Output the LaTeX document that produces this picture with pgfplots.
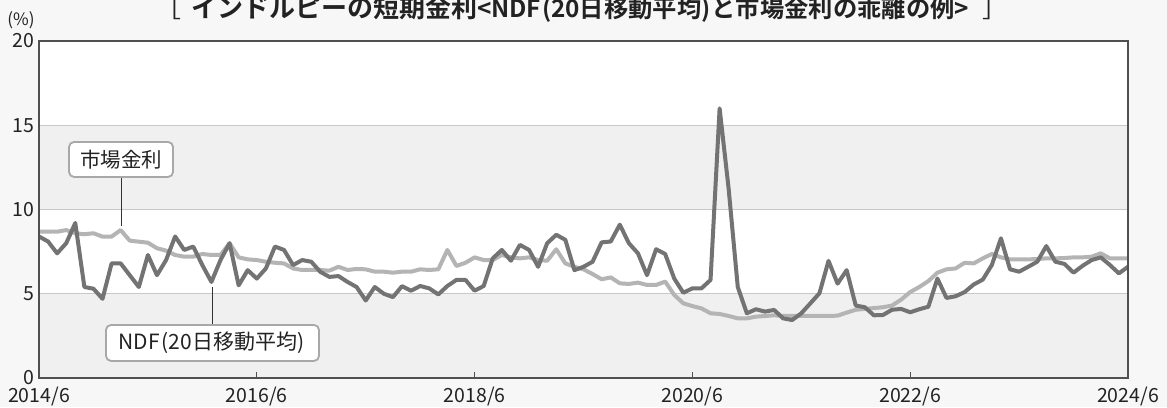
\documentclass[border=0pt]{standalone}
\usepackage{fontspec}
\setmainfont{Noto Sans CJK JP}[BoldFont={Noto Sans CJK JP Bold}]
\usepackage{pgfplots}
\pgfplotsset{compat=1.18}
\definecolor{bgout}{HTML}{F7F7F7}
\definecolor{band}{HTML}{F0F0F0}
\definecolor{gridc}{HTML}{C8C8C8}
\definecolor{axc}{HTML}{505050}
\definecolor{ndf}{HTML}{737373}
\definecolor{mkt}{HTML}{B4B4B4}
\definecolor{boxc}{HTML}{A8A8A8}
\definecolor{txt}{HTML}{222222}

\pgfplotstableread{
i v
0 8.4
1 8.1
2 7.4
3 8.0
4 9.2
5 5.4
6 5.3
7 4.7
8 6.8
9 6.8
10 6.1
11 5.4
12 7.3
13 6.1
14 7.0
15 8.4
16 7.6
17 7.8
18 6.7
19 5.7
20 7.0
21 8.0
22 5.5
23 6.4
24 5.9
25 6.5
26 7.8
27 7.6
28 6.7
29 7.0
30 6.9
31 6.3
32 6.0
33 6.05
34 5.7
35 5.4
36 4.6
37 5.4
38 5.0
39 4.8
40 5.45
41 5.18
42 5.46
43 5.32
44 4.96
45 5.46
46 5.82
47 5.82
48 5.18
49 5.46
50 7.1
51 7.6
52 6.96
53 7.9
54 7.6
55 6.6
56 8.0
57 8.5
58 8.2
59 6.4
60 6.6
61 6.9
62 8.05
63 8.1
64 9.1
65 8.0
66 7.4
67 6.1
68 7.64
69 7.36
70 5.9
71 5.06
72 5.32
73 5.32
74 5.82
75 16.0
76 11.2
77 5.4
78 3.84
79 4.08
80 3.94
81 4.04
82 3.54
83 3.44
84 3.84
85 4.43
86 5.03
87 6.95
88 5.6
89 6.4
90 4.3
91 4.2
92 3.72
93 3.74
94 4.05
95 4.1
96 3.9
97 4.08
98 4.23
99 5.9
100 4.75
101 4.85
102 5.1
103 5.55
104 5.84
105 6.71
106 8.29
107 6.45
108 6.31
109 6.6
110 6.9
111 7.83
112 6.9
113 6.77
114 6.25
115 6.66
116 7.0
117 7.16
118 6.71
119 6.21
120 6.6
}\ndftable

\pgfplotstableread{
i v
0 8.68
1 8.68
2 8.68
3 8.78
4 8.59
5 8.53
6 8.59
7 8.39
8 8.39
9 8.78
10 8.15
11 8.09
12 8.03
13 7.7
14 7.56
15 7.3
16 7.2
17 7.2
18 7.36
19 7.3
20 7.3
21 8.0
22 7.16
23 7.04
24 7.0
25 6.9
26 6.84
27 6.8
28 6.5
29 6.41
30 6.41
31 6.41
32 6.37
33 6.6
34 6.41
35 6.47
36 6.45
37 6.31
38 6.31
39 6.25
40 6.31
41 6.31
42 6.45
43 6.41
44 6.45
45 7.6
46 6.65
47 6.84
48 7.16
49 7.0
50 7.0
51 7.3
52 7.16
53 7.1
54 7.16
55 7.0
56 6.96
57 7.64
58 6.8
59 6.6
60 6.45
61 6.17
62 5.86
63 5.97
64 5.62
65 5.58
66 5.66
67 5.52
68 5.52
69 5.72
70 4.93
71 4.43
72 4.27
73 4.13
74 3.84
75 3.8
76 3.68
77 3.54
78 3.54
79 3.64
80 3.68
81 3.72
82 3.68
83 3.68
84 3.68
85 3.68
86 3.68
87 3.68
88 3.7
89 3.88
90 4.05
91 4.1
92 4.15
93 4.2
94 4.3
95 4.65
96 5.1
97 5.4
98 5.75
99 6.25
100 6.45
101 6.5
102 6.84
103 6.8
104 7.1
105 7.36
106 7.16
107 7.04
108 7.04
109 7.04
110 7.06
111 7.1
112 7.1
113 7.12
114 7.16
115 7.16
116 7.2
117 7.4
118 7.1
119 7.1
120 7.1
}\mkttable

\begin{document}
\begin{tikzpicture}[x=1pt,y=1pt]
\fill[bgout] (0,0) rectangle (1167,407);
\useasboundingbox (0,0) rectangle (1167,407);
\begin{axis}[
  at={(39pt,29pt)}, anchor=south west,
  scale only axis, width=1089pt, height=337pt,
  xmin=0, xmax=120, ymin=0, ymax=20,
  xtick={0,24,48,72,96,120},
  xticklabels={2014/6,2016/6,2018/6,2020/6,2022/6,2024/6},
  ytick={0,5,10,15,20},
  tick pos=left,
  tick align=inside, major tick length=6pt,
  ytick style={draw=none},
  xtick style={axc, line width=1pt},
  axis line style={axc, line width=1.3pt},
  axis on top,
  axis background/.style={fill=white},
  tick label style={font=\fontsize{19.5}{19.5}\selectfont, text=txt},
  /pgf/number format/assume math mode=true,
  xticklabel style={anchor=center, yshift=-19pt},
  yticklabel style={anchor=east, xshift=-1pt},
]
\fill[band] (axis cs:0,0) rectangle (axis cs:120,5);
\fill[band] (axis cs:0,10) rectangle (axis cs:120,15);
\foreach \yy in {5,10,15}{
  \edef\tmp{\noexpand\draw[gridc, line width=1pt] (axis cs:0,\yy) -- (axis cs:120,\yy);}\tmp
}
\addplot[mkt, line width=4pt, line join=round, mark=none] table[x=i,y=v] {\mkttable};
\addplot[ndf, line width=4pt, line join=round, mark=none] table[x=i,y=v] {\ndftable};
\draw[black!80, line width=1pt] (axis cs:9.04,11.93) -- (axis cs:9.04,9.0);
\node[draw=boxc, line width=1.8pt, fill=white, rounded corners=5pt, minimum width=104pt, minimum height=35pt, inner sep=0pt, font=\fontsize{20.5}{20.5}\selectfont, text=txt] at (axis cs:9.04,12.97) {市場金利};
\draw[black!80, line width=1pt] (axis cs:19.12,3.15) -- (axis cs:19.12,5.4);
\node[draw=boxc, line width=1.8pt, fill=white, rounded corners=5pt, minimum width=213pt, minimum height=36pt, inner sep=0pt, font=\fontsize{21}{21}\selectfont, text=txt] at (axis cs:19.12,2.08) {NDF\kern2pt(20日移動平均)\kern2pt};
\end{axis}
\node[anchor=center, text=txt, font=\fontsize{17}{17}\selectfont] at (21,387) {(\%)};
\node[anchor=base, text=txt, inner sep=0pt] at (582,389) {{\fontsize{26}{26}\selectfont ［\kern10pt\bfseries インドルピーの短期金利}{\fontsize{24.3}{24.3}\selectfont\bfseries <NDF\kern1pt(20日移動平均)\kern1pt と市場金利の乖離の例>}{\fontsize{26}{26}\selectfont \kern14pt ］}};
\end{tikzpicture}
\end{document}
